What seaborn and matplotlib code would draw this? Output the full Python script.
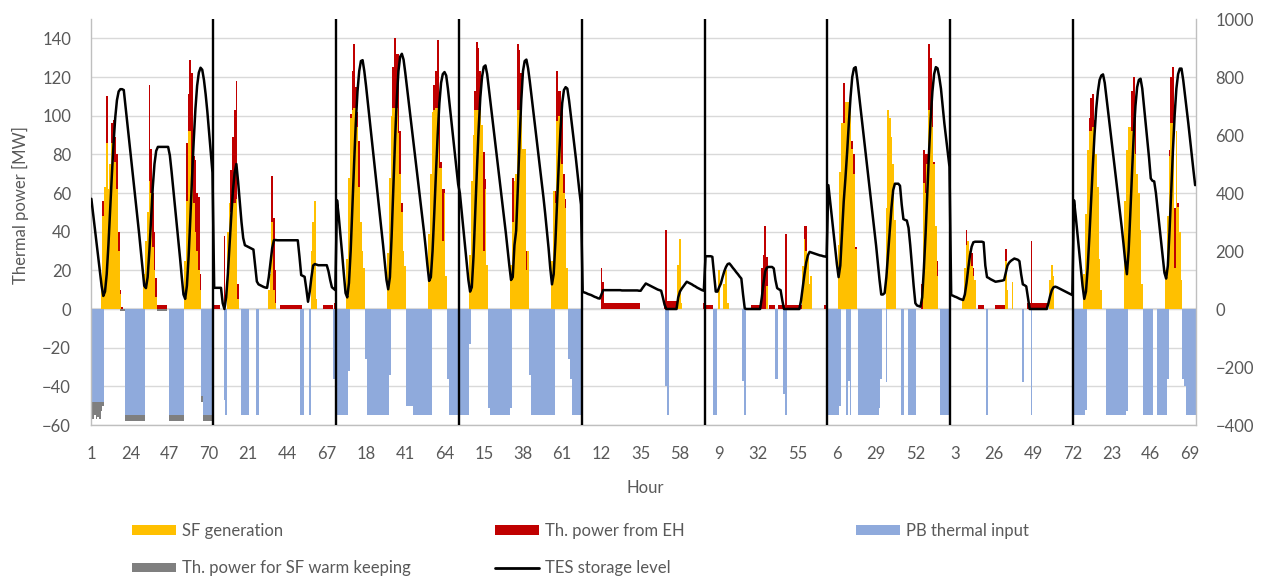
import matplotlib
matplotlib.use("Agg")
import matplotlib.pyplot as plt
from matplotlib.patches import Patch
from matplotlib.lines import Line2D
import numpy as np
import pandas as pd
import seaborn as sns

# ---------------------------------------------------------------------------
# Hourly dispatch data, nine 72-hour blocks (MW, TES level in MWh)
# ---------------------------------------------------------------------------
sf_b1 = [0, 0, 0, 0, 0, 0, 12, 48, 63, 86, 62, 75, 86, 88, 76, 62, 30, 8, 0, 0, 0, 0, 0, 0,
         0, 0, 0, 0, 0, 0, 0, 18, 35, 50, 66, 60, 32, 20, 6, 0, 0, 0, 0, 0, 0, 0, 0, 0,
         0, 0, 0, 0, 0, 0, 0, 25, 56, 92, 92, 66, 55, 40, 30, 20, 10, 0, 0, 0, 0, 0, 0, 0]
eh_b1 = [0, 0, 0, 0, 0, 0, 0, 8, 0, 24, 0, 0, 10, 10, 13, 18, 10, 2, 1, 0, 0, 0, 0, 0,
         0, 0, 0, 0, 0, 0, 0, 0, 0, 0, 50, 23, 28, 20, 10, 2, 2, 2, 2, 2, 2, 0, 0, 0,
         0, 0, 0, 0, 0, 0, 0, 0, 30, 19, 37, 56, 24, 37, 30, 38, 8, 0, 0, 0, 0, 0, 0, 0]
pb_b1 = [-48, -48, -48, -48, -48, -48, -48, -48, 0, 0, 0, 0, 0, 0, 0, 0, 0, 0, 0, 0, -55, -55, -55, -55,
         -55, -55, -55, -55, -55, -55, -55, -55, 0, 0, 0, 0, 0, 0, 0, 0, 0, 0, 0, 0, 0, 0, -55, -55,
         -55, -55, -55, -55, -55, -55, -55, 0, 0, 0, 0, 0, 0, 0, 0, 0, 0, -45, -55, -55, -55, -55, -55, -55]
wk_b1 = [-6, -9, -7, -9, -8, -9, -5, -2, 0, 0, 0, 0, 0, 0, 0, 0, 0, -1, -1, -1, -3, -3, -3, -3,
         -3, -3, -3, -3, -3, -3, -3, -3, 0, 0, 0, 0, 0, 0, 0, -1, -1, -1, -1, -1, -1, 0, -3, -3,
         -3, -3, -3, -3, -3, -3, -3, 0, 0, 0, 0, 0, 0, 0, 0, 0, 0, -3, -3, -3, -3, -3, -3, -3]
tes_b1 = [380, 330, 280, 230, 180, 130, 80, 45, 60, 120, 220, 340, 460, 570, 660, 720, 750, 758, 758, 755, 700, 645, 590, 535,
          480, 425, 370, 315, 260, 200, 140, 80, 72, 110, 200, 310, 420, 500, 545, 559, 559, 559, 559, 559, 559, 559, 530, 475,
          415, 355, 295, 235, 175, 110, 50, 35, 80, 180, 310, 450, 580, 690, 770, 815, 832, 825, 790, 740, 680, 610, 540, 470]

sf_b2 = [0, 0, 0, 0, 0, 0, 0, 0, 40, 55, 50, 55, 55, 57, 5, 0, 0, 0, 0, 0, 0, 0, 0, 0,
         0, 0, 0, 0, 0, 0, 0, 0, 10, 18, 45, 10, 3, 0, 0, 0, 0, 0, 0, 0, 0, 0, 0, 0,
         0, 0, 0, 0, 0, 0, 0, 0, 0, 30, 45, 56, 5, 0, 0, 0, 0, 0, 0, 0, 0, 0, 0, 0]
eh_b2 = [2, 2, 2, 2, 0, 0, 38, 0, 0, 0, 22, 34, 48, 61, 8, 0, 0, 0, 0, 0, 0, 0, 0, 0,
         0, 0, 0, 0, 0, 0, 0, 0, 0, 0, 24, 37, 17, 0, 0, 2, 2, 2, 2, 2, 2, 2, 2, 2,
         2, 2, 2, 2, 0, 0, 0, 0, 0, 0, 0, 0, 0, 0, 0, 0, 2, 2, 2, 2, 2, 2, 0, 3]
pb_b2 = [0, 0, 0, 0, 0, 0, -47, -55, 0, 0, 0, 0, 0, 0, 0, 0, -55, -55, -55, -55, -55, 0, 0, 0,
         0, -55, -55, 0, 0, 0, 0, 0, 0, 0, 0, 0, 0, 0, 0, 0, 0, 0, 0, 0, 0, 0, 0, 0,
         0, 0, 0, -55, -55, 0, 0, 0, -55, 0, 0, 0, 0, 0, 0, 0, 0, 0, 0, 0, 0, 0, -36, -36]
tes_b2 = [73, 73, 73, 73, 73, 20, 0, 40, 120, 220, 320, 410, 470, 500, 440, 370, 300, 245, 220, 217, 214, 211, 208, 205,
          150, 95, 85, 82, 79, 76, 74, 73, 110, 160, 210, 237, 238, 237, 237, 237, 237, 237, 237, 237, 237, 237, 237, 237,
          237, 237, 180, 117, 114, 111, 70, 25, 60, 110, 150, 155, 153, 151, 151, 151, 151, 151, 151, 130, 100, 75, 70, 65]

sf_b3 = [0, 0, 0, 0, 0, 0, 26, 68, 99, 103, 104, 104, 94, 63, 45, 30, 21, 0, 0, 0, 0, 0, 0, 0,
         0, 0, 0, 0, 0, 0, 29, 68, 100, 104, 104, 104, 91, 70, 50, 30, 22, 0, 0, 0, 0, 0, 0, 0,
         0, 0, 0, 0, 0, 0, 39, 70, 102, 103, 104, 104, 73, 73, 35, 60, 17, 0, 0, 0, 0, 0, 0, 0]
eh_b3 = [0, 0, 0, 0, 0, 0, 0, 0, 2, 20, 33, 11, 8, 24, 0, 0, 0, 0, 0, 0, 0, 0, 0, 0,
         0, 0, 0, 0, 0, 0, 0, 0, 0, 21, 36, 28, 41, 22, 5, 0, 0, 0, 0, 0, 0, 0, 0, 0,
         0, 0, 0, 0, 0, 0, 0, 0, 0, 13, 19, 35, 35, 3, 27, 2, 0, 0, 0, 0, 0, 0, 0, 0]
pb_b3 = [-55, -55, -55, -55, -55, -55, -55, -32, 0, 0, 0, 0, 0, 0, 0, 0, 0, -26, -55, -55, -55, -55, -55, -55,
         -55, -55, -55, -55, -55, -55, -55, -34, 0, 0, 0, 0, 0, 0, 0, 0, 0, -50, -50, -50, -50, -55, -55, -55,
         -55, -55, -55, -55, -55, -55, -55, -55, 0, 0, 0, 0, 0, 0, 0, 0, 0, -36, -55, -55, -55, -55, -55, -55]
tes_b3 = [375, 320, 255, 190, 120, 55, 40, 90, 200, 350, 500, 640, 750, 820, 855, 858, 820, 770, 715, 660, 605, 550, 495, 440,
          385, 330, 275, 220, 160, 100, 68, 110, 250, 420, 580, 720, 820, 870, 880, 860, 815, 765, 715, 665, 615, 565, 515, 465,
          415, 365, 315, 265, 210, 150, 97, 110, 200, 330, 470, 600, 710, 780, 810, 817, 805, 760, 705, 650, 595, 540, 485, 430]

sf_b4 = [0, 0, 0, 0, 0, 0, 28, 66, 90, 103, 103, 103, 103, 95, 30, 62, 23, 0, 0, 0, 0, 0, 0, 0,
         0, 0, 0, 0, 0, 0, 23, 45, 66, 70, 103, 103, 104, 83, 83, 20, 30, 0, 0, 0, 0, 0, 0, 0,
         0, 0, 0, 0, 0, 0, 25, 61, 55, 97, 100, 90, 75, 60, 52, 21, 0, 0, 0, 0, 0, 0, 0, 0]
eh_b4 = [0, 0, 0, 0, 0, 0, 0, 0, 0, 10, 35, 32, 20, 0, 51, 5, 0, 0, 0, 0, 0, 0, 0, 0,
         0, 0, 0, 0, 0, 0, 0, 23, 0, 0, 34, 31, 18, 0, 0, 10, 0, 0, 0, 0, 0, 0, 0, 0,
         0, 0, 0, 0, 0, 0, 0, 0, 6, 26, 13, 23, 30, 10, 5, 0, 0, 0, 0, 0, 0, 0, 0, 0]
pb_b4 = [-55, -55, -55, -55, -55, -55, -18, 0, 0, 0, 0, 0, 0, 0, 0, 0, 0, -51, -55, -55, -55, -55, -55, -55,
         -55, -55, -55, -55, -55, -55, -51, 0, 0, 0, 0, 0, 0, 0, 0, 0, 0, -34, -55, -55, -55, -55, -55, -55,
         -55, -55, -55, -55, -55, -55, -55, -55, 0, 0, 0, 0, 0, 0, 0, 0, -26, -36, -55, -55, -55, -55, -55, -55]
tes_b4 = [400, 340, 280, 220, 160, 100, 60, 75, 180, 330, 480, 620, 730, 800, 835, 840, 810, 760, 710, 660, 610, 560, 510, 460,
          410, 360, 310, 260, 205, 150, 100, 110, 220, 270, 420, 580, 720, 820, 855, 860, 830, 785, 735, 685, 635, 585, 535, 485,
          435, 385, 330, 270, 210, 140, 85, 120, 230, 370, 500, 620, 710, 755, 765, 760, 720, 670, 620, 570, 520, 465, 410, 360]

sf_b5 = [0, 0, 0, 0, 0, 0, 0, 0, 0, 0, 0, 0, 0, 0, 0, 0, 0, 0, 0, 0, 0, 0, 0, 0,
         0, 0, 0, 0, 0, 0, 0, 0, 0, 0, 0, 0, 0, 0, 0, 0, 0, 0, 0, 0, 0, 0, 0, 0,
         0, 0, 0, 0, 0, 0, 0, 0, 23, 36, 3, 0, 0, 0, 0, 0, 0, 0, 0, 0, 0, 0, 0, 0]
eh_b5 = [0, 0, 0, 0, 0, 0, 0, 0, 0, 0, 0, 21, 14, 3, 3, 3, 3, 3, 3, 3, 3, 3, 3, 3,
         3, 3, 3, 3, 3, 3, 3, 3, 3, 3, 0, 0, 0, 0, 0, 0, 0, 0, 0, 0, 0, 0, 0, 0,
         3, 41, 4, 4, 4, 4, 4, 4, 0, 0, 0, 0, 0, 0, 0, 0, 0, 0, 0, 0, 0, 0, 0, 3]
pb_b5 = [0, 0, 0, 0, 0, 0, 0, 0, 0, 0, 0, 0, 0, 0, 0, 0, 0, 0, 0, 0, 0, 0, 0, 0,
         0, 0, 0, 0, 0, 0, 0, 0, 0, 0, 0, 0, 0, 0, 0, 0, 0, 0, 0, 0, 0, 0, 0, 0,
         0, -40, -55, 0, 0, 0, 0, 0, 0, 0, 0, 0, 0, 0, 0, 0, 0, 0, 0, 0, 0, 0, 0, 0]
tes_b5 = [59, 57, 55, 52, 50, 48, 45, 42, 40, 37, 36, 50, 65, 65, 65, 65, 65, 65, 65, 65, 65, 65, 65, 64,
          64, 64, 64, 64, 64, 64, 64, 64, 64, 63, 63, 72, 80, 88, 85, 82, 79, 76, 73, 70, 67, 65, 63, 40,
          15, 0, 0, 0, 0, 0, 0, 0, 40, 60, 70, 78, 86, 94, 91, 88, 85, 81, 78, 74, 71, 68, 65, 63]

sf_b6 = [0, 0, 0, 0, 0, 0, 0, 0, 20, 0, 0, 13, 20, 3, 0, 0, 0, 0, 0, 0, 0, 0, 0, 0,
         0, 0, 0, 0, 0, 0, 0, 0, 0, 0, 0, 0, 12, 0, 0, 0, 0, 0, 0, 0, 0, 0, 0, 0,
         0, 0, 0, 0, 0, 0, 0, 0, 0, 22, 36, 30, 28, 13, 17, 0, 0, 0, 0, 0, 0, 0, 0, 0]
eh_b6 = [2, 2, 2, 2, 2, 0, 0, 0, 0, 0, 0, 0, 0, 0, 0, 0, 0, 0, 0, 0, 0, 0, 0, 0,
         0, 0, 0, 2, 2, 2, 2, 2, 2, 21, 28, 43, 15, 0, 2, 2, 2, 0, 0, 2, 2, 2, 2, 39,
         2, 2, 2, 2, 2, 2, 2, 2, 2, 0, 7, 13, 0, 0, 0, 0, 0, 0, 0, 0, 0, 0, 2, 2]
pb_b6 = [0, 0, 0, 0, 0, -55, -55, 0, 0, 0, 0, 0, 0, 0, 0, 0, 0, 0, 0, 0, 0, 0, -37, -55,
         0, 0, 0, 0, 0, 0, 0, 0, 0, 0, 0, 0, 0, 0, 0, 0, 0, -36, -36, 0, 0, 0, -44, -55,
         0, 0, 0, 0, 0, 0, 0, 0, 0, 0, 0, 0, 0, 0, 0, 0, 0, 0, 0, 0, 0, 0, 0, 0]
tes_b6 = [182, 182, 182, 182, 180, 120, 60, 60, 75, 88, 110, 130, 145, 155, 157, 150, 142, 135, 127, 120, 112, 105, 50, 2,
          0, 0, 0, 0, 0, 0, 0, 0, 0, 40, 90, 130, 143, 145, 145, 145, 140, 100, 72, 68, 65, 30, 0, 0,
          0, 0, 0, 0, 0, 0, 0, 0, 30, 75, 120, 160, 185, 197, 195, 193, 191, 189, 187, 185, 184, 182, 181, 180]

sf_b7 = [0, 0, 0, 0, 0, 0, 33, 71, 96, 96, 107, 107, 107, 107, 83, 70, 31, 0, 0, 0, 0, 0, 0, 0,
         0, 0, 0, 0, 0, 0, 0, 0, 0, 0, 52, 103, 99, 89, 75, 46, 0, 0, 0, 0, 0, 0, 0, 0,
         0, 0, 0, 0, 0, 0, 0, 0, 65, 60, 75, 103, 103, 94, 75, 43, 17, 0, 0, 0, 0, 0, 0, 0]
eh_b7 = [0, 0, 0, 0, 0, 0, 0, 0, 0, 21, 0, 0, 0, 0, 4, 10, 1, 0, 0, 0, 0, 0, 0, 0,
         0, 0, 0, 0, 0, 0, 0, 0, 0, 0, 0, 0, 0, 0, 0, 0, 0, 0, 0, 0, 0, 0, 0, 0,
         0, 0, 0, 0, 0, 0, 0, 13, 17, 20, 5, 34, 27, 22, 1, 0, 8, 0, 0, 0, 0, 0, 0, 0]
pb_b7 = [-55, -55, -55, -55, -55, -55, -55, -50, 0, 0, 0, -55, -37, -55, 0, 0, 0, 0, -55, -55, -55, -55, -55, -55,
         -55, -55, -55, -55, -55, -55, -51, -36, 0, 0, -38, 0, 0, 0, 0, 0, 0, 0, 0, -55, -55, 0, 0, -55,
         -55, -55, -55, -55, 0, 0, 0, 0, 0, 0, 0, 0, 0, 0, 0, 0, 0, 0, -55, -55, -55, -55, -55, -55]
tes_b7 = [427, 375, 320, 265, 210, 155, 110, 150, 260, 370, 450, 540, 640, 730, 800, 830, 834, 790, 738, 686, 634, 582, 530, 478,
          426, 374, 322, 270, 218, 160, 100, 50, 50, 55, 110, 190, 270, 350, 410, 432, 432, 432, 425, 360, 310, 307, 305, 280,
          220, 150, 80, 20, 12, 10, 8, 40, 140, 260, 400, 540, 660, 750, 810, 834, 830, 800, 760, 700, 640, 590, 540, 490]

sf_b8 = [0, 0, 0, 0, 0, 0, 0, 5, 21, 33, 35, 30, 22, 17, 15, 0, 0, 0, 0, 0, 0, 0, 0, 0,
         0, 0, 0, 0, 0, 0, 0, 0, 25, 10, 0, 0, 14, 0, 0, 0, 0, 0, 0, 0, 0, 0, 0, 0,
         0, 0, 0, 0, 0, 0, 0, 0, 0, 0, 15, 23, 17, 0, 0, 0, 0, 0, 0, 0, 0, 0, 0, 0]
eh_b8 = [0, 0, 0, 0, 0, 0, 0, 0, 0, 8, 0, 0, 7, 4, 0, 0, 2, 2, 2, 2, 0, 0, 0, 0,
         0, 0, 2, 2, 2, 2, 2, 2, 6, 0, 0, 0, 0, 0, 0, 0, 0, 0, 0, 0, 0, 3, 3, 35,
         3, 3, 3, 3, 3, 3, 3, 3, 3, 0, 0, 0, 0, 0, 0, 0, 0, 0, 0, 0, 0, 0, 0, 0]
pb_b8 = [0, 0, 0, 0, 0, 0, 0, 0, 0, 0, 0, 0, 0, 0, 0, 0, 0, 0, 0, 0, 0, -55, 0, 0,
         0, 0, 0, 0, 0, 0, 0, 0, 0, 0, 0, 0, 0, 0, 0, 0, 0, 0, -38, 0, 0, 0, 0, -55,
         0, 0, 0, 0, 0, 0, 0, 0, 0, 0, 0, 0, 0, 0, 0, 0, 0, 0, 0, 0, 0, 0, 0, 0]
tes_b8 = [48, 46, 43, 41, 38, 35, 33, 31, 50, 90, 140, 185, 215, 230, 232, 232, 232, 232, 232, 230, 150, 110, 107, 103,
          100, 97, 94, 95, 96, 97, 98, 100, 125, 150, 160, 166, 170, 174, 172, 170, 165, 120, 85, 82, 78, 40, 0, 0,
          0, 0, 0, 0, 0, 0, 0, 0, 0, 20, 45, 65, 75, 77, 75, 72, 69, 66, 63, 60, 57, 54, 51, 48]

sf_b9 = [0, 0, 0, 0, 0, 0, 18, 49, 82, 92, 92, 94, 94, 80, 63, 26, 10, 0, 0, 0, 0, 0, 0, 0,
         0, 0, 0, 0, 0, 0, 56, 82, 94, 94, 92, 90, 80, 70, 60, 41, 13, 0, 0, 0, 0, 0, 0, 0,
         0, 0, 0, 0, 0, 0, 20, 48, 79, 96, 96, 21, 92, 53, 40, 15, 0, 0, 0, 0, 0, 0, 0, 0]
eh_b9 = [0, 0, 0, 0, 0, 0, 0, 0, 0, 7, 17, 17, 4, 0, 0, 0, 0, 0, 0, 0, 0, 0, 0, 0,
         0, 0, 0, 0, 0, 0, 0, 0, 0, 0, 21, 30, 21, 0, 0, 0, 0, 0, 0, 0, 0, 0, 0, 0,
         0, 0, 0, 0, 0, 0, 0, 0, 3, 24, 29, 31, 0, 2, 0, 0, 0, 0, 0, 0, 0, 0, 0, 0]
pb_b9 = [-55, -55, -55, -55, -55, -55, -55, -52, 0, 0, 0, 0, 0, 0, 0, 0, 0, 0, 0, -55, -55, -55, -55, -55,
         -55, -55, -55, -55, -55, -55, -55, -53, 0, 0, 0, 0, 0, 0, 0, 0, 0, -55, -55, -55, -55, -55, -55, 0,
         0, -55, -55, -55, -55, -55, -55, -36, 0, 0, 0, 0, 0, 0, 0, 0, -36, -40, -55, -55, -55, -55, -55, -55]
tes_b9 = [375, 320, 260, 200, 140, 80, 35, 60, 140, 250, 370, 490, 600, 690, 750, 790, 805, 809, 780, 730, 680, 630, 580, 530,
          480, 430, 380, 330, 280, 225, 165, 120, 200, 330, 470, 600, 700, 765, 790, 794, 760, 700, 640, 580, 520, 450, 442, 440,
          400, 345, 290, 235, 180, 125, 105, 150, 270, 410, 550, 670, 760, 810, 829, 829, 790, 740, 690, 640, 585, 530, 478, 427]

hour_labels = ["1", "24", "47", "70", "21", "44", "67", "18", "41", "64", "15", "38", "61", "12", "35",
               "58", "9", "32", "55", "6", "29", "52", "3", "26", "49", "72", "23", "46", "69"]

series_names = ["SF generation", "Th. power from EH", "PB thermal input",
                "Th. power for SF warm keeping", "TES storage level"]

# ---------------------------------------------------------------------------
BLOCK = 72
sf = np.concatenate([sf_b1, sf_b2, sf_b3, sf_b4, sf_b5, sf_b6, sf_b7, sf_b8, sf_b9]).astype(float)
eh = np.concatenate([eh_b1, eh_b2, eh_b3, eh_b4, eh_b5, eh_b6, eh_b7, eh_b8, eh_b9]).astype(float)
pb = np.concatenate([pb_b1, pb_b2, pb_b3, pb_b4, pb_b5, pb_b6, pb_b7, pb_b8, pb_b9]).astype(float)
tes = np.concatenate([tes_b1, tes_b2, tes_b3, tes_b4, tes_b5, tes_b6, tes_b7, tes_b8, tes_b9]).astype(float)
# solar-field warm keeping only occurs in the first block
wk = np.concatenate([wk_b1, np.zeros(8 * BLOCK)]).astype(float)

n = len(sf)
df = pd.DataFrame({"hour": np.arange(n), "sf": sf, "eh": eh, "pb": pb, "wk": wk, "tes": tes})
df["pos_total"] = df["sf"] + df["eh"]
df["neg_total"] = df["pb"] + df["wk"]

YELLOW = "#FFC000"
RED = "#C00000"
BLUE = "#8FAADC"
GREY = "#7F7F7F"
TXT = "#595959"
GRID = "#D9D9D9"

sns.set_theme(style="white")
plt.rcParams["font.family"] = ["Lato", "DejaVu Sans"]

fig = plt.figure(figsize=(12.7, 5.81), dpi=100)
L, R, T, B = 90.5 / 1270, 1196 / 1270, 19 / 581, 425 / 581
ax = fig.add_axes([L, 1 - B, R - L, B - T])

order = list(range(n))
bar_kw = dict(x="hour", order=order, ax=ax, errorbar=None, width=1.0, saturation=1,
              linewidth=0, antialiased=False, orient="x", zorder=2)
# stacked columns: totals first, the lower component painted over them
sns.barplot(data=df, y="pos_total", color=RED, **bar_kw)
sns.barplot(data=df, y="sf", color=YELLOW, **bar_kw)
sns.barplot(data=df, y="neg_total", color=GREY, **bar_kw)
sns.barplot(data=df, y="pb", color=BLUE, **bar_kw)

ax.set_xlim(-0.5, n - 0.5)
ax.set_ylim(-60, 150)
ax.set_yticks(np.arange(-60, 141, 20))
ax.set_xticks(np.arange(0, n, 23))
ax.set_xticklabels(hour_labels)
ax.yaxis.grid(True, color=GRID, linewidth=1.0, zorder=0)
ax.set_axisbelow(True)
ax.axhline(0, color=GRID, linewidth=1.5, zorder=1)
ax.set_xlabel("")
ax.set_ylabel("")
ax.tick_params(axis="both", length=0, labelsize=12, colors=TXT)
ax.tick_params(axis="y", pad=14)
ax.tick_params(axis="x", pad=15)

# block separators
for k in range(1, n // BLOCK):
    ax.axvline(k * BLOCK - 0.5, color="black", linewidth=1.7, zorder=4)

for s in ["left", "right", "bottom"]:
    ax.spines[s].set_color("#BFBFBF")
    ax.spines[s].set_linewidth(1.0)
ax.spines["top"].set_visible(False)

ax2 = ax.twinx()
sns.lineplot(data=df, x="hour", y="tes", ax=ax2, color="black", linewidth=1.8, zorder=5)
ax2.set_ylim(-400, 1000)
ax2.set_yticks(np.arange(-400, 1001, 200))
ax2.set_xlim(-0.5, n - 0.5)
ax2.set_ylabel("")
ax2.set_xlabel("")
ax2.tick_params(axis="y", length=0, labelsize=12, colors=TXT, pad=14)
for s in ["left", "right", "bottom", "top"]:
    ax2.spines[s].set_visible(False)

fig.text(20 / 1270, 1 - 205 / 581, "Thermal power [MW]", rotation=90, ha="center", va="center",
         fontsize=12, color=TXT)
fig.text(645 / 1270, 1 - 488 / 581, "Hour", ha="center", va="center", fontsize=12, color=TXT)

handles = {
    series_names[0]: Patch(facecolor=YELLOW, edgecolor="none"),
    series_names[1]: Patch(facecolor=RED, edgecolor="none"),
    series_names[2]: Patch(facecolor=BLUE, edgecolor="none"),
    series_names[3]: Patch(facecolor=GREY, edgecolor="none"),
    series_names[4]: Line2D([], [], color="black", linewidth=2.0),
}
columns = [(132, [series_names[0], series_names[3]]),
           (495, [series_names[1], series_names[4]]),
           (856, [series_names[2]])]
for x0, names in columns:
    leg = fig.legend([handles[nm] for nm in names], names, loc="upper left",
                     bbox_to_anchor=(x0 / 1270, 1 - 523 / 581), frameon=False,
                     borderpad=0, borderaxespad=0, handlelength=2.65, handleheight=0.5,
                     handletextpad=0.35, labelspacing=1.28, fontsize=12)
    for t in leg.get_texts():
        t.set_color(TXT)

fig.savefig("out.png", dpi=100)
